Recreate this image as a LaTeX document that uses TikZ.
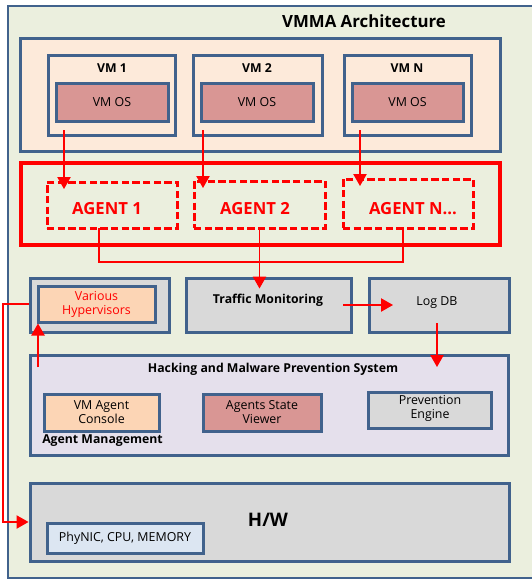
\documentclass[tikz,border=0pt]{standalone}
\usepackage{fontspec}
\setmainfont{Open Sans}
\usetikzlibrary{arrows.meta,fit}

\definecolor{bblue}{RGB}{65,98,140}
\definecolor{outerbg}{RGB}{235,239,222}
\definecolor{vmbg}{RGB}{253,234,218}
\definecolor{osbg}{RGB}{217,150,148}
\definecolor{peachbg}{RGB}{252,213,181}
\definecolor{graybg}{RGB}{217,217,217}
\definecolor{hmpsbg}{RGB}{229,224,236}
\definecolor{hwbg}{RGB}{220,230,242}
\definecolor{agred}{RGB}{255,0,0}

\tikzset{
  box/.style={draw=bblue, line width=2.25pt, inner sep=0pt},
  agentbox/.style={draw=agred, line width=2.25pt, dash pattern=on 5.5pt off 2.5pt, inner sep=0pt},
  txt/.style={font=\fontsize{9.3}{10.5}\selectfont, align=center, inner sep=0pt},
  lbl/.style={font=\bfseries\fontsize{9.2}{11}\selectfont, inner sep=0pt},
  agtxt/.style={text=agred, font=\bfseries\fontsize{12.5}{14}\selectfont, inner sep=0pt},
  arr/.style={draw=agred, line width=0.9pt, -{Triangle[length=9pt,width=10pt]}},
  wire/.style={draw=agred, line width=0.8pt}
}

\begin{document}
\begin{tikzpicture}[x=0.75pt,y=-0.75pt]
  \useasboundingbox (0,0) rectangle (532,579);

  % outer frame
  \node[box, line width=1.5pt, fill=outerbg, fit={(8,6) (545,578)}] (outer) {};
  \node[font=\bfseries\fontsize{12.6}{14}\selectfont] (title) at (364,21) {VMMA Architecture};

  % virtual machines
  \node[box, fill=vmbg, fit={(20,38) (500,151)}] (vmarea) {};
  \node[box, fill=vmbg, fit={(48,55) (175,135)}] (vm1) {};
  \node[box, fill=vmbg, fit={(193,55) (322,135)}] (vm2) {};
  \node[box, fill=vmbg, fit={(344,55) (471,135)}] (vmn) {};
  \node[lbl] (vm1t) at (112,68) {VM 1};
  \node[lbl] (vm2t) at (257,68) {VM 2};
  \node[lbl] (vmnt) at (407,68) {VM N};
  \node[box, fill=osbg, fit={(56,83) (168,121)}] (os1) {};
  \node[box, fill=osbg, fit={(201,83) (313,121)}] (os2) {};
  \node[box, fill=osbg, fit={(352,83) (463,121)}] (osn) {};
  \node[txt] (os1t) at (os1) {VM OS};
  \node[txt] (os2t) at (os2) {VM OS};
  \node[txt] (osnt) at (osn) {VM OS};

  % agents
  \node[box, draw=agred, line width=2.5pt, fit={(21,163) (500,245)}] (agarea) {};
  \node[agentbox, fit={(47,182) (177,228)}] (ag1) {};
  \node[agentbox, fit={(194,181) (325,228)}] (ag2) {};
  \node[agentbox, fit={(343,179) (473,228)}] (agn) {};
  \node[agtxt] (ag1t) at (107,209) {AGENT 1};
  \node[agtxt] (ag2t) at (255,209) {AGENT 2};
  \node[agtxt] (agnt) at (413,209) {AGENT N...};

  % middle row
  \node[box, fill=graybg, fit={(30,278) (169,332)}] (hyp) {};
  \node[box, fill=peachbg, fit={(38,286) (155,322)}] (hypin) {};
  \node[txt, text=agred] (hypt) at (hypin) {Various\\Hypervisors};
  \node[box, fill=graybg, fit={(186,278) (351,332)}] (traffic) {};
  \node[lbl] (traffict) at (268,300) {Traffic Monitoring};
  \node[box, fill=graybg, fit={(369,278) (509,332)}] (logdb) {};
  \node[txt] (logdbt) at (437,303) {Log DB};

  % prevention system
  \node[box, fill=hmpsbg, fit={(30,355) (508,455)}] (hmps) {};
  \node[lbl] (hmpst) at (273,369) {Hacking and Malware Prevention System};
  \node[box, fill=peachbg, fit={(44,394) (159,431)}] (console) {};
  \node[txt] (consolet) at (console) {VM Agent\\Console};
  \node[lbl, anchor=west] (agmgmt) at (42,441) {Agent Management};
  \node[box, fill=osbg, fit={(203,394) (321,431)}] (viewer) {};
  \node[txt] (viewert) at (viewer) {Agents State\\Viewer};
  \node[box, fill=graybg, fit={(368,392) (491,428)}] (engine) {};
  \node[txt] (enginet) at (430,408) {Prevention\\Engine};

  % hardware
  \node[box, fill=graybg, fit={(30,483) (509,561)}] (hw) {};
  \node[font=\bfseries\fontsize{14}{16}\selectfont] (hwt) at (268,520) {H/W};
  \node[box, fill=hwbg, fit={(47,523) (203,553)}] (phy) {};
  \node[txt] (phyt) at (phy) {PhyNIC,\ CPU, MEMORY};

  % connectors
  \coordinate (v1) at (64,130);
  \coordinate (v2) at (203,130);
  \coordinate (vn) at (360,130);
  \draw[arr] (v1) -- (v1 |- 0,189);
  \draw[arr] (v2) -- (v2 |- 0,188);
  \draw[arr] (vn) -- (vn |- 0,186);

  \coordinate (a1) at (99,228);
  \coordinate (an) at (403,228);
  \draw[wire] (a1) -- ++(0,34) -| (an);
  \draw[arr] (ag2.south) -- ++(0,59);

  \coordinate (tm) at (343,305);
  \draw[arr] (tm) -- (393,305);
  \coordinate (db) at (437,323);
  \draw[arr] (db) -- (db |- 0,367);
  \coordinate (hm) at (38,367);
  \draw[arr] (hm) -- (hm |- hypin.south);

  \draw[arr] (hyp.west |- 0,304) -- (3,304) -- (3,522) -- (hw.west |- 0,522);
\end{tikzpicture}
\end{document}
